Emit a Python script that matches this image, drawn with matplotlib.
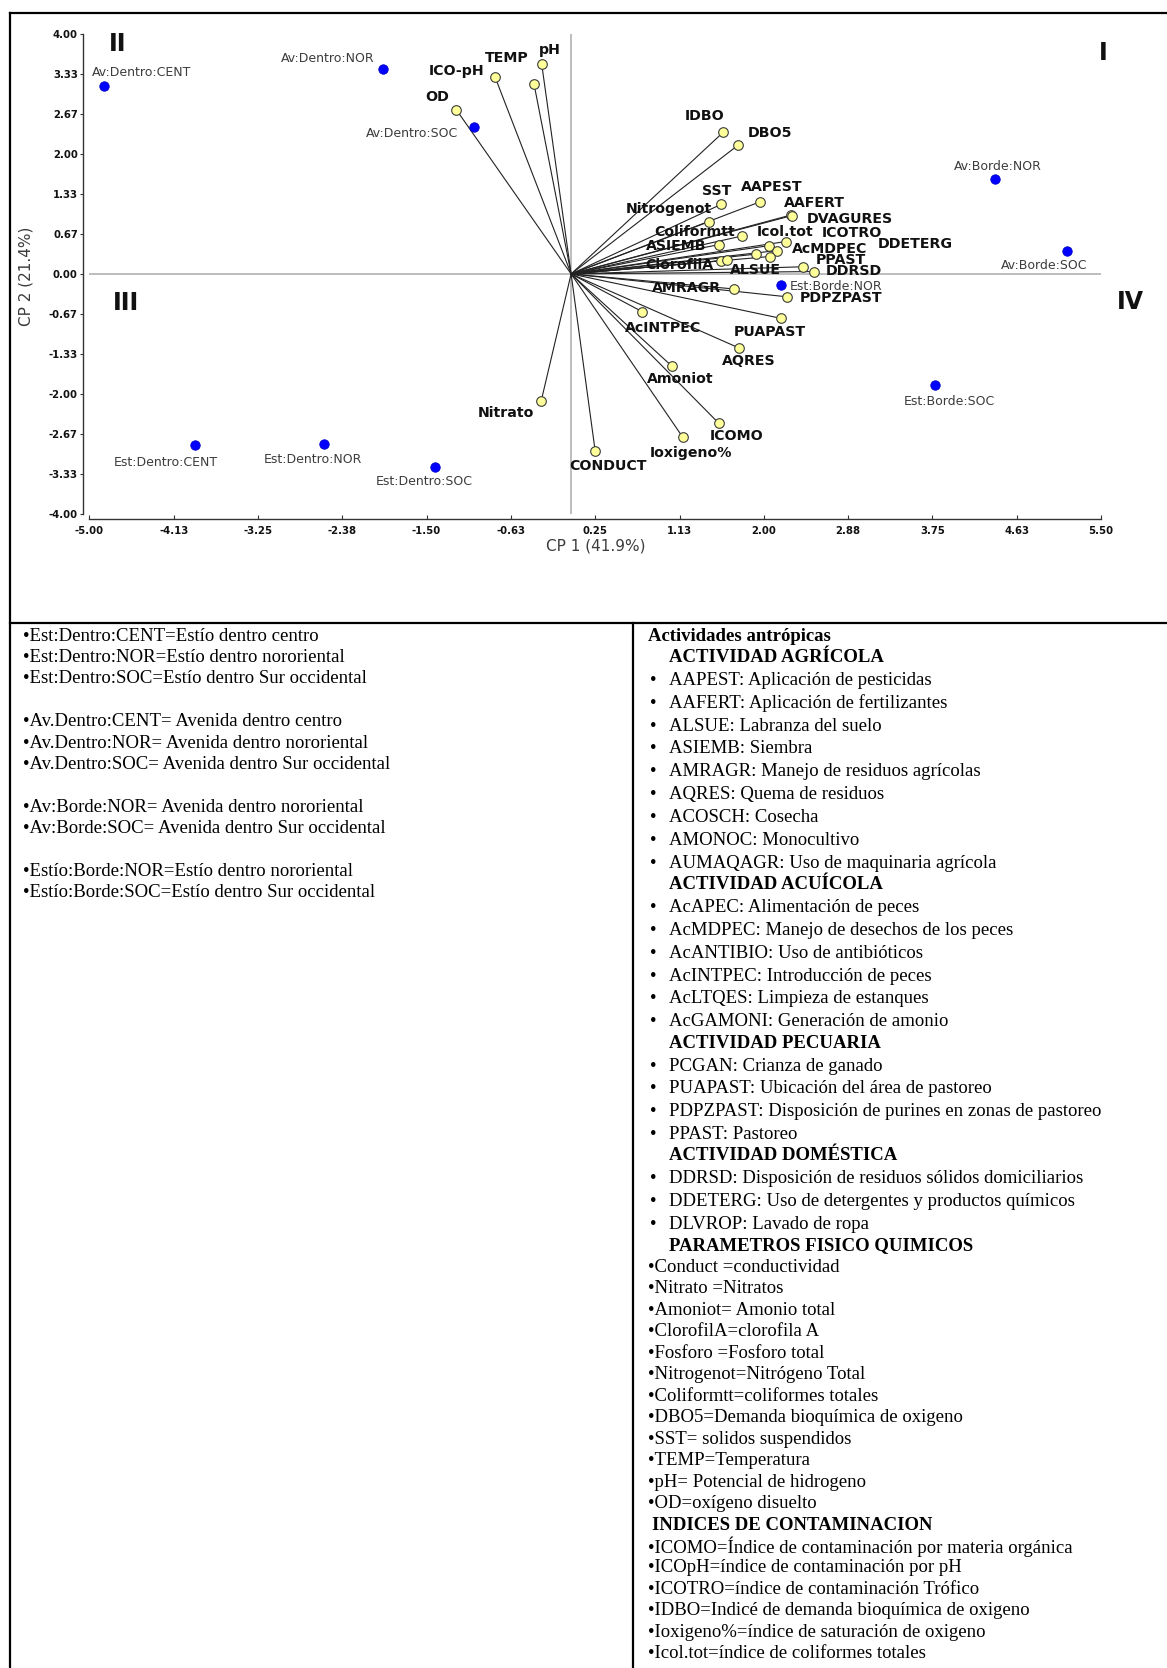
import numpy as np
import matplotlib
matplotlib.use("Agg")
import matplotlib.pyplot as plt
from matplotlib.lines import Line2D

# ---------------- data ----------------
obs_names = ["Av:Dentro:CENT", "Av:Dentro:NOR", "Av:Dentro:SOC", "Av:Borde:NOR",
             "Av:Borde:SOC", "Est:Borde:NOR", "Est:Borde:SOC", "Est:Dentro:CENT",
             "Est:Dentro:NOR", "Est:Dentro:SOC"]
obs_cp1 = [-4.85, -1.95, -1.01, 4.40, 5.15, 2.18, 3.78, -3.90, -2.57, -1.41]
obs_cp2 = [3.13, 3.41, 2.45, 1.58, 0.38, -0.19, -1.84, -2.84, -2.83, -3.21]

var_names = ["pH", "TEMP", "ICO-pH", "OD", "IDBO", "DBO5", "SST", "AAPEST", "AAFERT",
             "DVAGURES", "Nitrogenot", "Coliformtt", "Icol.tot", "ICOTRO", "ASIEMB",
             "AcMDPEC", "DDETERG", "ClorofilA", "Fosforo", "PPAST", "ALSUE", "DDRSD",
             "AMRAGR", "PDPZPAST", "AcINTPEC", "PUAPAST", "AQRES", "Amoniot", "ICOMO",
             "Ioxigeno%", "CONDUCT", "Nitrato"]
var_cp1 = [-0.305, -0.385, -0.79, -1.19, 1.58, 1.73, 1.56, 1.96, 2.28,
           2.29, 1.43, 1.77, 2.23, 2.05, 1.54,
           2.14, 2.06, 1.56, 1.62, 2.41, 1.92, 2.52,
           1.69, 2.24, 0.74, 2.18, 1.74, 1.05, 1.53,
           1.16, 0.25, -0.31]
var_cp2 = [3.49, 3.16, 3.28, 2.73, 2.36, 2.14, 1.16, 1.20, 0.98,
           0.97, 0.87, 0.63, 0.54, 0.47, 0.49,
           0.39, 0.29, 0.22, 0.23, 0.12, 0.33, 0.04,
           -0.25, -0.38, -0.63, -0.74, -1.23, -1.54, -2.48,
           -2.72, -2.95, -2.11]

x_tick_labels = ["-5.00", "-4.13", "-3.25", "-2.38", "-1.50", "-0.63", "0.25",
                 "1.13", "2.00", "2.88", "3.75", "4.63", "5.50"]
y_tick_labels = ["-4.00", "-3.33", "-2.67", "-2.00", "-1.33", "-0.67", "0.00",
                 "0.67", "1.33", "2.00", "2.67", "3.33", "4.00"]
x_label = "CP 1 (41.9%)"
y_label = "CP 2 (21.4%)"
quadrants = ["I", "II", "III", "IV"]

left_notes = [
    "•Est:Dentro:CENT=Estío dentro centro",
    "•Est:Dentro:NOR=Estío dentro nororiental",
    "•Est:Dentro:SOC=Estío dentro Sur occidental",
    "",
    "•Av.Dentro:CENT= Avenida dentro centro",
    "•Av.Dentro:NOR= Avenida dentro nororiental",
    "•Av.Dentro:SOC= Avenida dentro Sur occidental",
    "",
    "•Av:Borde:NOR= Avenida dentro nororiental",
    "•Av:Borde:SOC= Avenida dentro Sur occidental",
    "",
    "•Estío:Borde:NOR=Estío dentro nororiental",
    "•Estío:Borde:SOC=Estío dentro Sur occidental",
]

right_notes = [
    ("head", "Actividades antrópicas"),
    ("sect", "ACTIVIDAD AGRÍCOLA"),
    ("item", "AAPEST: Aplicación de pesticidas"),
    ("item", "AAFERT: Aplicación de fertilizantes"),
    ("item", "ALSUE: Labranza del suelo"),
    ("item", "ASIEMB: Siembra"),
    ("item", "AMRAGR: Manejo de residuos agrícolas"),
    ("item", "AQRES: Quema de residuos"),
    ("item", "ACOSCH: Cosecha"),
    ("item", "AMONOC: Monocultivo"),
    ("item", "AUMAQAGR: Uso de maquinaria agrícola"),
    ("sect", "ACTIVIDAD ACUÍCOLA"),
    ("item", "AcAPEC: Alimentación de peces"),
    ("item", "AcMDPEC: Manejo de desechos de los peces"),
    ("item", "AcANTIBIO: Uso de antibióticos"),
    ("item", "AcINTPEC: Introducción de peces"),
    ("item", "AcLTQES: Limpieza de estanques"),
    ("item", "AcGAMONI: Generación de amonio"),
    ("sect", "ACTIVIDAD PECUARIA"),
    ("item", "PCGAN: Crianza de ganado"),
    ("item", "PUAPAST: Ubicación del área de pastoreo"),
    ("item", "PDPZPAST: Disposición de purines en zonas de pastoreo"),
    ("item", "PPAST: Pastoreo"),
    ("sect", "ACTIVIDAD DOMÉSTICA"),
    ("item", "DDRSD: Disposición de residuos sólidos domiciliarios"),
    ("item", "DDETERG: Uso de detergentes y productos químicos"),
    ("item", "DLVROP: Lavado de ropa"),
    ("sect", "PARAMETROS FISICO QUIMICOS"),
    ("def", "•Conduct =conductividad"),
    ("def", "•Nitrato =Nitratos"),
    ("def", "•Amoniot= Amonio total"),
    ("def", "•ClorofilA=clorofila A"),
    ("def", "•Fosforo =Fosforo total"),
    ("def", "•Nitrogenot=Nitrógeno Total"),
    ("def", "•Coliformtt=coliformes totales"),
    ("def", "•DBO5=Demanda bioquímica de oxigeno"),
    ("def", "•SST= solidos suspendidos"),
    ("def", "•TEMP=Temperatura"),
    ("def", "•pH= Potencial de hidrogeno"),
    ("def", "•OD=oxígeno disuelto"),
    ("sect2", "INDICES DE CONTAMINACION"),
    ("def", "•ICOMO=Índice de contaminación por materia orgánica"),
    ("def", "•ICOpH=índice de contaminación por pH"),
    ("def", "•ICOTRO=índice de contaminación Trófico"),
    ("def", "•IDBO=Indicé de demanda bioquímica de oxigeno"),
    ("def", "•Ioxigeno%=índice de saturación de oxigeno"),
    ("def", "•Icol.tot=índice de coliformes totales"),
]

# ---------------- layout helpers (pixel units) ----------------
W, H = 1167, 1668
fig = plt.figure(figsize=(W / 100, H / 100), dpi=100)
fig.patch.set_facecolor("white")


def fx(px):
    return px / W


def fy(py):
    return 1 - py / H


# ---------------- biplot ----------------
ax_left, ax_right, ax_top, ax_bottom = 89.4, 1101.0, 33.6, 514.3
ax = fig.add_axes([fx(ax_left), fy(ax_bottom), (ax_right - ax_left) / W,
                   (ax_bottom - ax_top) / H])
ax.set_xlim(-5.0, 5.5)
ax.set_ylim(-4.0, 4.0)
ax.set_facecolor("white")

for s in ("top", "right"):
    ax.spines[s].set_visible(False)
ax.spines["left"].set_position(("outward", 4.3))
ax.spines["bottom"].set_position(("outward", 3.6))
for s in ("left", "bottom"):
    ax.spines[s].set_color("#333333")
    ax.spines[s].set_linewidth(1.0)

ax.set_xticks(np.linspace(-5.0, 5.5, len(x_tick_labels)))
ax.set_xticklabels(x_tick_labels)
ax.set_yticks(np.linspace(-4.0, 4.0, len(y_tick_labels)))
ax.set_yticklabels(y_tick_labels)
ax.tick_params(axis="x", direction="in", length=3, width=0.8, color="#333333",
               pad=5, labelsize=7.3, labelcolor="#111111")
ax.tick_params(axis="y", direction="out", length=2.5, width=0.8, color="#333333",
               pad=1.5, labelsize=7.3, labelcolor="#111111")
for t in ax.get_xticklabels() + ax.get_yticklabels():
    t.set_fontweight("bold")

# reference lines through the origin
ax.axhline(0, color="#b8b8b8", lw=1.3, zorder=1)
ax.axvline(0, color="#b8b8b8", lw=1.3, zorder=1)

# variable vectors
for x, y in zip(var_cp1, var_cp2):
    ax.plot([0, x], [0, y], color="#222222", lw=0.8, zorder=2)
ax.scatter(var_cp1, var_cp2, s=48, c="#ffff99", edgecolors="#3a3a3a",
           linewidths=0.8, zorder=4)

# observations
ax.scatter(obs_cp1, obs_cp2, s=46, c="#0000ff", edgecolors="#0000cc",
           linewidths=0.6, zorder=5)

# label offsets in pixels (dx right, dy up)
var_offsets = {
    "pH": (8, 14), "TEMP": (-27, 26), "ICO-pH": (-38, 6), "OD": (-19, 13),
    "IDBO": (-19, 16), "DBO5": (32, 12), "SST": (-5, 13), "AAPEST": (12, 15),
    "AAFERT": (24, 12), "DVAGURES": (58, -3), "Nitrogenot": (-40, 13),
    "Coliformtt": (-47, 4), "Icol.tot": (-1, 10), "ICOTRO": (83, 13),
    "ASIEMB": (-43, -1), "AcMDPEC": (52, 2), "DDETERG": (146, 13),
    "ClorofilA": (-42, -4), "PPAST": (38, 7), "ALSUE": (-1, -16),
    "DDRSD": (40, 1), "AMRAGR": (-47, 1), "PDPZPAST": (54, -1),
    "AcINTPEC": (21, -16), "PUAPAST": (-11, -14), "AQRES": (10, -13),
    "Amoniot": (8, -13), "ICOMO": (18, -13), "Ioxigeno%": (8, -16),
    "CONDUCT": (13, -15), "Nitrato": (-35, -12),
}
for name, x, y in zip(var_names, var_cp1, var_cp2):
    if name not in var_offsets:
        continue
    dx, dy = var_offsets[name]
    ax.annotate(name, (x, y), xytext=(dx, dy), textcoords="offset pixels",
                ha="center", va="center", fontsize=10.2, fontweight="bold",
                color="#111111", zorder=6, annotation_clip=False)

obs_offsets = {
    "Av:Dentro:CENT": (38, 13), "Av:Dentro:NOR": (-56, 11),
    "Av:Dentro:SOC": (-62, -7), "Av:Borde:NOR": (3, 13),
    "Av:Borde:SOC": (-23, -14), "Est:Borde:NOR": (55, -1),
    "Est:Borde:SOC": (14, -17), "Est:Dentro:CENT": (-30, -18),
    "Est:Dentro:NOR": (-11, -16), "Est:Dentro:SOC": (-11, -15),
}
for name, x, y in zip(obs_names, obs_cp1, obs_cp2):
    dx, dy = obs_offsets[name]
    ax.annotate(name, (x, y), xytext=(dx, dy), textcoords="offset pixels",
                ha="center", va="center", fontsize=9.0, color="#3c3c3c",
                zorder=6, annotation_clip=False)

# axis titles
fig.text(fx(595.5), fy(546), x_label, ha="center", va="center",
         fontsize=11, color="#3c3c3c")
fig.text(fx(26), fy(276), y_label, ha="center", va="center", rotation=90,
         fontsize=11, color="#3c3c3c")

# quadrant numerals
quad_pos = {"I": (1103, 53), "II": (118, 44), "III": (126, 303), "IV": (1130, 302)}
for q in quadrants:
    px, py = quad_pos[q]
    fig.text(fx(px), fy(py), q, ha="center", va="center", fontsize=17,
             fontweight="bold", color="#111111")

# ---------------- frame lines ----------------
frame_kw = dict(color="black", lw=1.6, transform=fig.transFigure)
fig.add_artist(Line2D([fx(9.6), 1.0], [fy(12.8), fy(12.8)], **frame_kw))
fig.add_artist(Line2D([fx(9.6), fx(9.6)], [fy(12.8), 0.0], **frame_kw))
fig.add_artist(Line2D([fx(9.6), 1.0], [fy(623.4), fy(623.4)], **frame_kw))
fig.add_artist(Line2D([fx(633), fx(633)], [fy(623.4), 0.0], **frame_kw))

# ---------------- notes ----------------
serif = "Liberation Serif"
fs = 13.5
y = 636.2
for line in left_notes:
    if line:
        fig.text(fx(23.4), fy(y), line, ha="left", va="center", fontsize=fs,
                 family=serif, color="black")
    y += 21.36

advance = {"sect": 21.3, "item": 22.87, "def": 21.49, "sect2": 21.3}
y = 636.2
for i, (kind, text) in enumerate(right_notes):
    if i > 0:
        y += advance[kind]
    if kind == "head":
        fig.text(fx(648), fy(y), text, ha="left", va="center", fontsize=fs,
                 family=serif, fontweight="bold")
    elif kind == "sect":
        fig.text(fx(669), fy(y), text, ha="left", va="center", fontsize=fs,
                 family=serif, fontweight="bold")
    elif kind == "sect2":
        fig.text(fx(652), fy(y), text, ha="left", va="center", fontsize=fs,
                 family=serif, fontweight="bold")
    elif kind == "item":
        fig.text(fx(650), fy(y), "•", ha="left", va="center", fontsize=fs,
                 family=serif)
        fig.text(fx(669), fy(y), text, ha="left", va="center", fontsize=fs,
                 family=serif)
    else:
        fig.text(fx(648), fy(y), text, ha="left", va="center", fontsize=fs,
                 family=serif)

fig.savefig("out.png", dpi=100, facecolor="white")
